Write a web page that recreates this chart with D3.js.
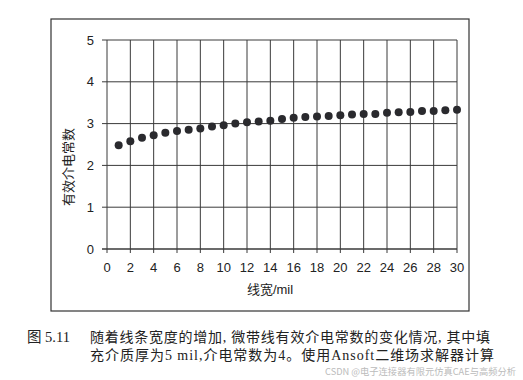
<!DOCTYPE html>
<html><head><meta charset="utf-8">
<script src="https://cdn.jsdelivr.net/npm/d3@7"></script>
<style>body{margin:0;background:#fff}svg{display:block}</style>
</head><body>
<script>
const widths = d3.range(1, 31);
const epsEff = [2.48,2.58,2.66,2.72,2.78,2.82,2.85,2.88,2.93,2.96,3.00,3.03,3.05,3.07,3.11,3.14,3.16,3.17,3.18,3.20,3.22,3.23,3.23,3.26,3.27,3.28,3.30,3.30,3.32,3.33];
const xTicks = d3.range(0, 31, 2);
const yTicks = [0,1,2,3,4,5];
const xTitle = "线宽/mil";
const yTitle = "有效介电常数";
const caption1 = "随着线条宽度的增加, 微带线有效介电常数的变化情况, 其中填";
const caption2 = "充介质厚为5 mil,介电常数为4。使用Ansoft二维场求解器计算";
const figLabel = "图 5.11";
const watermark = "CSDN @电子连接器有限元仿真CAE与高频分析";

const W = 523, H = 380;
const svg = d3.select("body").append("svg").attr("width", W).attr("height", H);
const x = d3.scaleLinear().domain([0, 30]).range([107, 457]);
const y = d3.scaleLinear().domain([0, 5]).range([249, 40]);
const sans = "'Liberation Sans', Arial, 'Noto Sans CJK SC', sans-serif";

// frame
svg.append("rect").attr("x", 51).attr("y", 19).attr("width", 418).attr("height", 292)
  .attr("fill", "none").attr("stroke", "#333").attr("stroke-width", 1.2);

// grid
const g = svg.append("g");
g.selectAll(".vg").data(xTicks).join("line")
  .attr("x1", d => x(d)).attr("x2", d => x(d)).attr("y1", y(5)).attr("y2", y(0) + 4)
  .attr("stroke", "#3a3a3a").attr("stroke-width", 1);
g.selectAll(".hg").data(yTicks).join("line")
  .attr("x1", x(0) - 5).attr("x2", x(30)).attr("y1", d => y(d)).attr("y2", d => y(d))
  .attr("stroke", "#3a3a3a").attr("stroke-width", d => d === 0 ? 1.4 : 1);

// tick labels
g.selectAll(".xl").data(xTicks).join("text")
  .attr("x", d => x(d)).attr("y", 272).attr("text-anchor", "middle")
  .attr("font-family", sans).attr("font-size", 13).attr("fill", "#222").text(d => d);
g.selectAll(".yl").data(yTicks).join("text")
  .attr("x", 94).attr("y", d => y(d) + 4.5).attr("text-anchor", "end")
  .attr("font-family", sans).attr("font-size", 13).attr("fill", "#222").text(d => d);

// titles
svg.append("text").attr("x", 270).attr("y", 294).attr("text-anchor", "middle")
  .attr("font-family", sans).attr("font-size", 13).attr("fill", "#222").text(xTitle);
svg.append("text").attr("transform", "translate(73,167) rotate(-90)").attr("text-anchor", "middle")
  .attr("font-family", sans).attr("font-size", 13).attr("fill", "#222").text(yTitle);

// points
svg.append("g").selectAll("circle").data(widths).join("circle")
  .attr("cx", (d) => x(d)).attr("cy", (d, i) => y(epsEff[i])).attr("r", 4)
  .attr("fill", "#2a2a2e");

// caption
const serif = "'Liberation Serif', 'Times New Roman', 'Noto Sans CJK SC', serif";
svg.append("text").attr("x", 27).attr("y", 342).attr("font-family", serif).attr("font-size", 14.5)
  .attr("fill", "#222").text(figLabel);
svg.append("text").attr("x", 90).attr("y", 342).attr("font-family", serif).attr("font-size", 14)
  .attr("fill", "#222").attr("textLength", 400).attr("lengthAdjust", "spacing").text(caption1);
svg.append("text").attr("x", 90).attr("y", 360).attr("font-family", serif).attr("font-size", 14)
  .attr("fill", "#222").attr("textLength", 404).attr("lengthAdjust", "spacing").text(caption2);
svg.append("text").attr("x", 325).attr("y", 374.5)
  .attr("font-family", "'Noto Sans CJK SC', sans-serif").attr("font-size", 9).attr("fill", "#bbb")
  .attr("textLength", 191).attr("lengthAdjust", "spacingAndGlyphs").text(watermark);
</script>
</body></html>
